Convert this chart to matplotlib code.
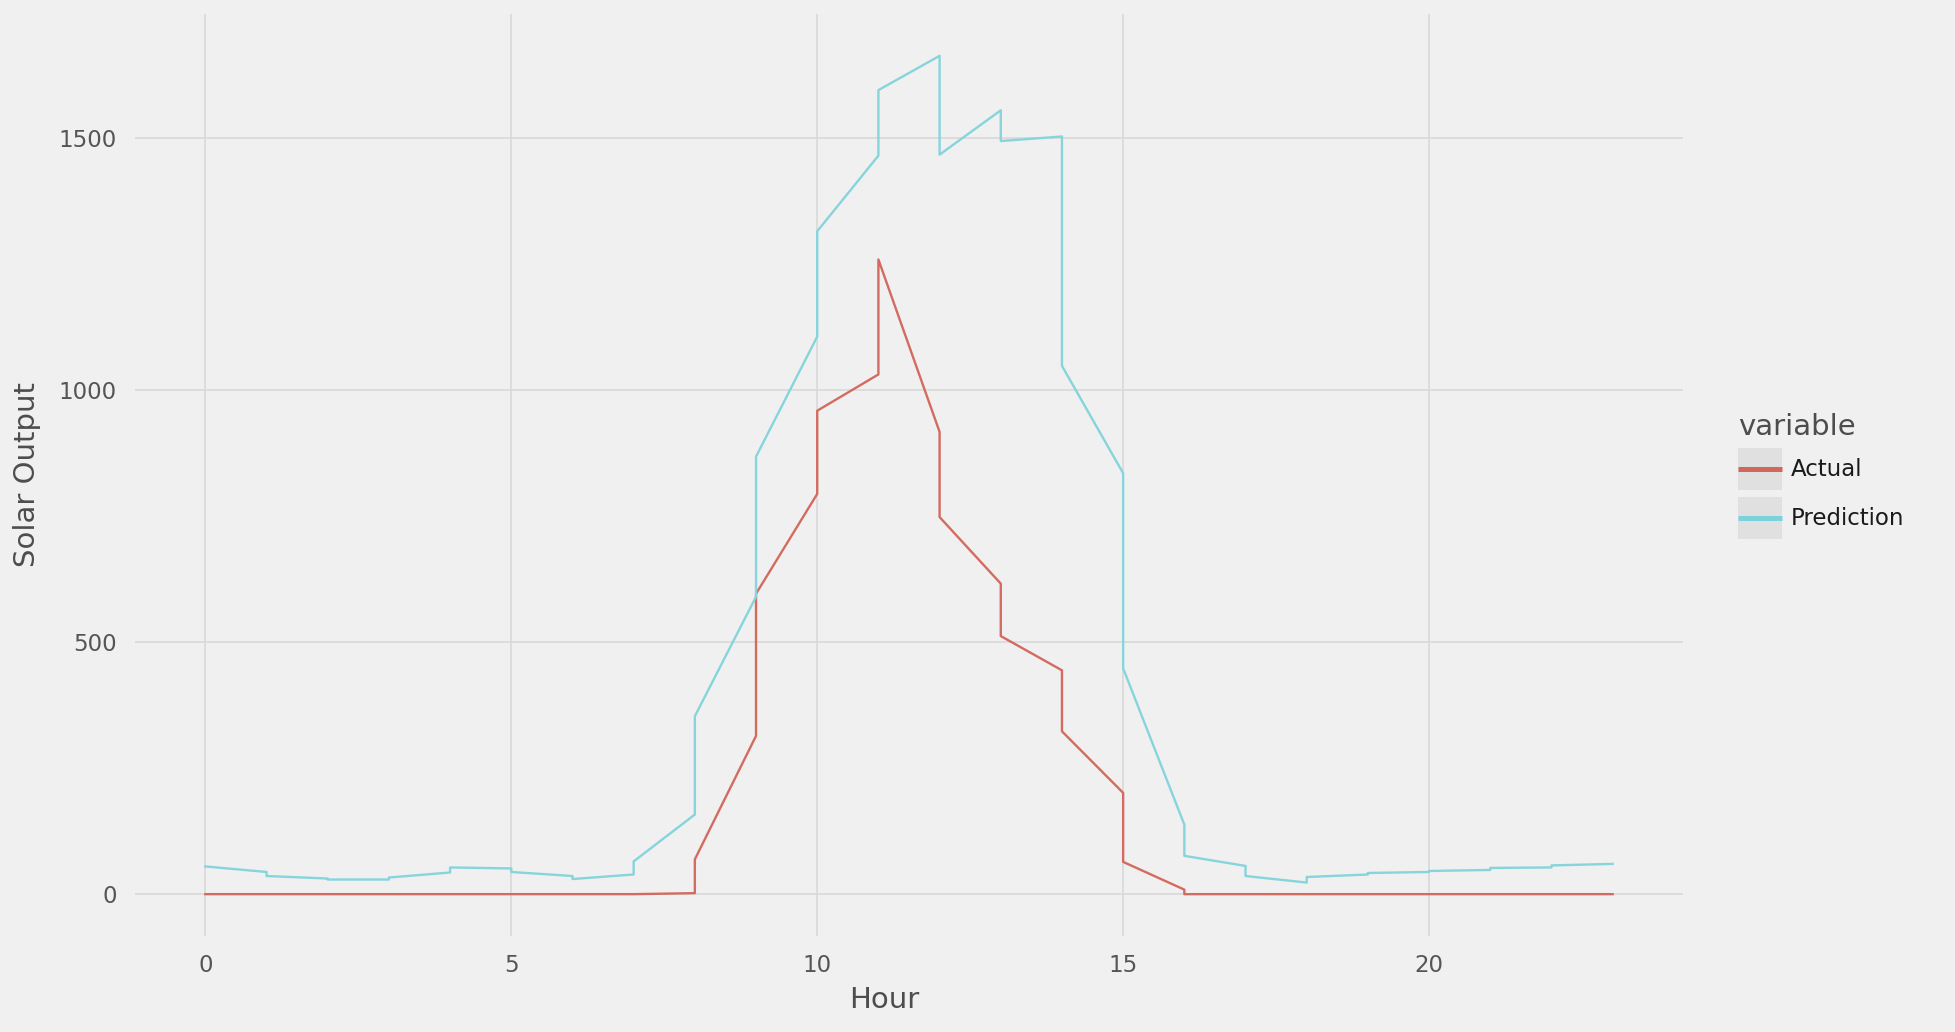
#!/usr/bin/env python3
"""Solar output by hour: actual vs prediction (two readings per hour)."""
import matplotlib
matplotlib.use("Agg")
import matplotlib.pyplot as plt
from matplotlib.legend_handler import HandlerLine2D
from matplotlib.lines import Line2D
from matplotlib.patches import Rectangle

# Two observations per hour; the line visits both before moving on
hours = list(range(24))
actual_first = [0, 0, 0, 0, 0, 0, 0, 0, 2, 314, 794, 1031,
                917, 616, 444, 201, 9, 0, 0, 0, 0, 0, 0, 0]
actual_second = [0, 0, 0, 0, 0, 0, 0, 0, 69, 596, 959, 1259,
                 748, 512, 323, 64, 0, 0, 0, 0, 0, 0, 0, 0]
pred_first = [55, 44, 31, 29, 43, 51, 36, 39, 158, 590, 1106, 1465,
              1663, 1555, 1503, 835, 138, 56, 23, 39, 44, 48, 53, 60]
pred_second = [55, 36, 29, 33, 53, 44, 30, 65, 353, 868, 1315, 1595,
               1467, 1494, 1048, 448, 76, 36, 34, 42, 46, 52, 57, 60]

series_names = ["Actual", "Prediction"]
series_colors = ["#D36B60", "#86D4DC"]
legend_colors = ["#D0665C", "#7CD2DB"]

BG = "#F0F0F0"
GRID = "#D9D9D9"


def interleave(first, second):
    """Return x, y with both readings of each hour in sequence."""
    xs, ys = [], []
    for h, a, b in zip(hours, first, second):
        xs += [h, h]
        ys += [a, b]
    return xs, ys


class KeyHandler(HandlerLine2D):
    """Legend key: grey square with a thick line across its middle."""

    def create_artists(self, legend, orig_handle, xdescent, ydescent,
                       width, height, fontsize, trans):
        bg = Rectangle((-xdescent, -ydescent), width, height,
                       facecolor="#E0E0E0", edgecolor="none", transform=trans)
        yc = height / 2 - ydescent
        line = Line2D([-xdescent, -xdescent + width], [yc, yc],
                      color=orig_handle.get_color(), lw=3.6,
                      solid_capstyle="butt", transform=trans)
        return [bg, line]


fig = plt.figure(figsize=(19.56, 10.32), dpi=100, facecolor=BG)
ax = fig.add_axes([135 / 1956, 1 - 936 / 1032, 1548 / 1956, 922 / 1032])
ax.set_facecolor(BG)

for (first, second), name, color in zip(
        [(actual_first, actual_second), (pred_first, pred_second)],
        series_names, series_colors):
    xs, ys = interleave(first, second)
    ax.plot(xs, ys, color=color, lw=1.7, label=name, zorder=3)

ax.set_xlim(-1.15, 24.15)
ax.set_ylim(-83, 1746)
ax.set_xticks([0, 5, 10, 15, 20])
ax.set_yticks([0, 500, 1000, 1500])
ax.grid(True, color=GRID, lw=1.2, zorder=0)
ax.set_axisbelow(True)
for s in ax.spines.values():
    s.set_visible(False)
ax.tick_params(length=0, pad=13, labelsize=16.5, labelcolor="#555555")

ax.set_xlabel("Hour", fontsize=21, color="#4D4D4D")
ax.set_ylabel("Solar Output", fontsize=21, color="#4D4D4D")
ax.xaxis.set_label_coords(0.484, -0.069)
ax.yaxis.set_label_coords(-0.0698, 0.501)
ax.xaxis.label.set_va("center")
ax.yaxis.label.set_va("center")

handles = [Line2D([], [], color=c) for c in legend_colors]
leg = fig.legend(handles, series_names, loc="center left",
                 bbox_to_anchor=(1738 / 1956, 1 - 476 / 1032),
                 frameon=False, title="variable", alignment="left",
                 fontsize=16.5, title_fontsize=21,
                 handlelength=1.92, handleheight=2.45, handletextpad=0.4,
                 labelspacing=0.3, borderpad=0, borderaxespad=0,
                 handler_map={Line2D: KeyHandler()})
leg.get_title().set_color("#4D4D4D")
for t in leg.get_texts():
    t.set_color("#1A1A1A")

fig.savefig("out.png", dpi=100, facecolor=BG)
